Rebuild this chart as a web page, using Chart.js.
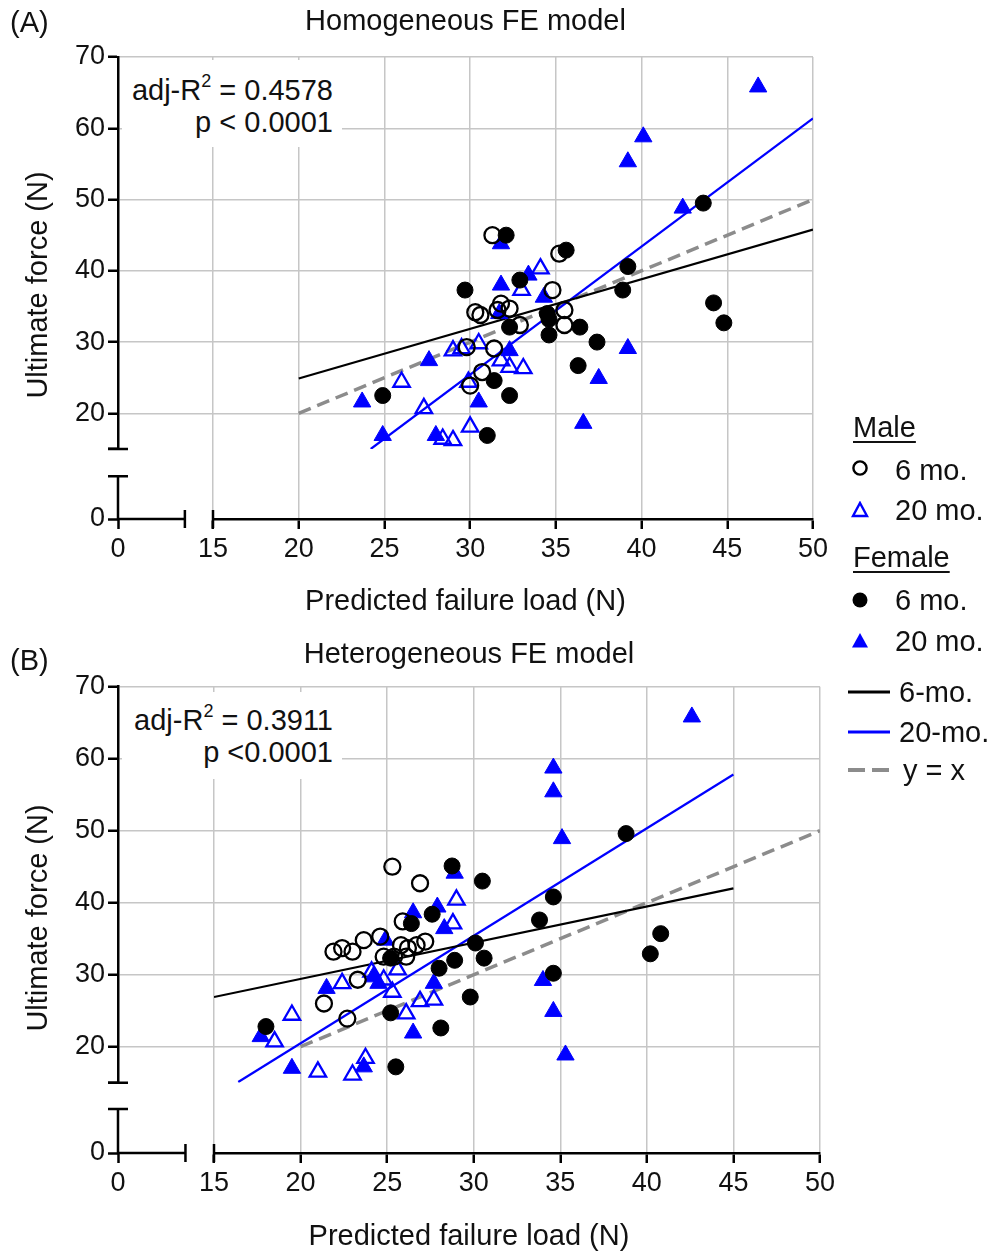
<!DOCTYPE html>
<html>
<head>
<meta charset="utf-8">
<script src="https://cdn.jsdelivr.net/npm/chart.js@4.4.1/dist/chart.umd.min.js"></script>
<style>
  body { margin: 0; background: #fff; font-family: "Liberation Sans", Arial, Helvetica, sans-serif; color: #111; }
  #page { position: relative; width: 993px; height: 1251px; overflow: hidden; }
  canvas { position: absolute; left: 0; }
  .t { position: absolute; font-size: 29px; line-height: 34px; white-space: nowrap; }
  .ytitle { position: absolute; width: 400px; text-align: center; font-size: 29px; line-height: 34px;
            transform: rotate(-90deg); transform-origin: 50% 50%; white-space: nowrap; }
  .xtitle { position: absolute; text-align: center; font-size: 29px; line-height: 34px; white-space: nowrap; }
  .stat { position: absolute; background: #fff; width: 220px; height: 87px; box-sizing: border-box;
          padding-right: 9px; text-align: right; font-size: 29px; line-height: 32px; white-space: nowrap; }
  .stat sup { font-size: 18px; line-height: 0; position: relative; top: -2px; }
  .u { text-decoration: underline; text-decoration-thickness: 2px; text-underline-offset: 4px; }
  .mk { position: absolute; }
</style>
</head>
<body>
<div id="page">
  <canvas id="homChart" width="993" height="625" style="top:0"></canvas>
  <canvas id="hetChart" width="993" height="625" style="top:626px"></canvas>

  <div class="t" style="left:10px; top:5px">(A)</div>
  <div class="t" style="left:10px; top:643px">(B)</div>

  <div class="ytitle" style="left:-163px; top:268px">Ultimate force (N)</div>
  <div class="ytitle" style="left:-163px; top:901px">Ultimate force (N)</div>
  <div class="xtitle" style="left:118px; width:695px; top:583px">Predicted failure load (N)</div>
  <div class="xtitle" style="left:118px; width:702px; top:1218px">Predicted failure load (N)</div>

  <div class="stat" style="left:122px; top:60px; padding-top:14px">adj-R<sup>2</sup> = 0.4578<br>p &lt; 0.0001</div>
  <div class="stat" style="left:122px; top:692px; padding-top:12px">adj-R<sup>2</sup> = 0.3911<br>p &lt;0.0001</div>

  <!-- legend -->
  <div class="t u" style="left:853px; top:410px">Male</div>
  <svg class="mk" style="left:851px; top:459px" width="18" height="18"><circle cx="9" cy="9" r="6.6" fill="none" stroke="#000" stroke-width="2.4"/></svg>
  <div class="t" style="left:895px; top:453px">6 mo.</div>
  <svg class="mk" style="left:851px; top:501px" width="18" height="18"><polygon points="9,2 16,15 2,15" fill="none" stroke="#0000ff" stroke-width="2.4"/></svg>
  <div class="t" style="left:895px; top:493px">20 mo.</div>
  <div class="t u" style="left:853px; top:540px">Female</div>
  <svg class="mk" style="left:851px; top:591px" width="18" height="18"><circle cx="9" cy="9" r="7.5" fill="#000"/></svg>
  <div class="t" style="left:895px; top:583px">6 mo.</div>
  <svg class="mk" style="left:851px; top:632px" width="18" height="18"><polygon points="9,1 17,15.5 1,15.5" fill="#0000ff"/></svg>
  <div class="t" style="left:895px; top:624px">20 mo.</div>
  <svg class="mk" style="left:848px; top:687px" width="44" height="10"><line x1="0" y1="5" x2="42" y2="5" stroke="#000" stroke-width="3"/></svg>
  <div class="t" style="left:899px; top:675px">6-mo.</div>
  <svg class="mk" style="left:848px; top:727px" width="44" height="10"><line x1="0" y1="5" x2="42" y2="5" stroke="#0000ff" stroke-width="3"/></svg>
  <div class="t" style="left:899px; top:715px">20-mo.</div>
  <svg class="mk" style="left:848px; top:765px" width="44" height="10"><line x1="0" y1="5" x2="42" y2="5" stroke="#8c8c8c" stroke-width="4" stroke-dasharray="17 7"/></svg>
  <div class="t" style="left:903px; top:753px">y = x</div>
</div>

<script>
// tick labels (both panels share the broken axes)
const xTicks = [15, 20, 25, 30, 35, 40, 45, 50];
const yTicks = [15, 20, 30, 40, 50, 60, 70]; // 15 only carries the break mark
const zeroTick = [0];

// (A) Homogeneous FE model: [predicted failure load, ultimate force]
const homMale6 = [[31.3, 45.0], [35.2, 42.4], [34.8, 37.3], [30.3, 34.2], [30.6, 33.8], [31.8, 35.4],
  [31.6, 34.5], [32.3, 34.7], [32.9, 32.4], [35.5, 34.5], [35.5, 32.4], [29.8, 29.3], [31.4, 29.1],
  [30.7, 25.8], [30.0, 23.9]];
const homMale20 = [[34.1, 40.3], [33.0, 37.3], [29.0, 28.8], [29.5, 29.1], [30.5, 29.8], [31.8, 27.4],
  [32.3, 26.5], [33.1, 26.3], [29.9, 24.4], [26.0, 24.4], [27.3, 20.7], [28.4, 16.4], [29.0, 16.2],
  [30.0, 18.1]];
const homFemale6 = [[32.1, 45.0], [35.6, 42.9], [43.6, 49.5], [39.2, 40.6], [38.9, 37.3], [32.9, 38.7],
  [29.7, 37.3], [34.5, 34.0], [34.6, 33.2], [34.6, 31.0], [32.3, 32.1], [36.4, 32.1], [37.4, 30.0],
  [36.3, 26.7], [44.2, 35.5], [44.8, 32.7], [31.4, 24.6], [32.3, 22.5], [24.9, 22.5], [31.0, 16.9]];
const homFemale20 = [[46.8, 65.8], [40.1, 58.8], [39.2, 55.3], [42.4, 48.8], [31.8, 43.8], [33.4, 39.4],
  [31.8, 38.0], [34.3, 36.3], [31.7, 34.0], [27.6, 27.4], [32.3, 28.8], [30.5, 21.6], [23.7, 21.6],
  [24.9, 16.9], [28.0, 16.9], [39.2, 29.1], [37.5, 24.9], [36.6, 18.6]];
const homFit6 = [[20, 24.9], [50, 45.8]];
const homFit20 = [[24.2, 15.0], [50, 61.4]];

// (B) Heterogeneous FE model
const hetMale6 = [[25.3, 45.0], [26.9, 42.7], [25.9, 37.4], [21.9, 33.2], [22.4, 33.7], [23.0, 33.2],
  [23.65, 34.8], [24.6, 35.3], [25.8, 34.1], [26.2, 33.7], [26.7, 34.1], [27.2, 34.6], [24.8, 32.5],
  [25.4, 32.5], [26.1, 32.5], [23.3, 29.3], [21.35, 26.0], [22.7, 23.9]];
const hetMale20 = [[29.0, 40.4], [28.8, 37.1], [24.1, 30.4], [24.8, 29.3], [25.6, 30.7], [22.4, 28.8],
  [25.3, 27.6], [26.1, 24.6], [26.9, 26.3], [27.7, 26.5], [19.5, 24.4], [18.5, 20.7], [21.0, 16.5],
  [23.75, 18.4], [23.0, 16.1]];
const hetFemale6 = [[28.75, 45.1], [30.5, 43.0], [27.6, 38.4], [26.4, 37.1], [25.2, 32.3], [30.1, 34.4],
  [30.6, 32.3], [28.9, 32.0], [28.0, 30.9], [25.2, 24.7], [29.8, 26.9], [28.1, 22.6], [18.0, 22.8],
  [25.5, 17.2], [38.8, 49.6], [34.6, 40.8], [33.8, 37.6], [40.8, 35.7], [40.2, 32.9], [34.6, 30.2]];
const hetFemale20 = [[28.9, 44.1], [27.9, 39.4], [28.3, 36.4], [26.5, 38.6], [24.9, 34.8], [24.2, 29.7],
  [24.5, 28.8], [21.5, 28.1], [27.7, 28.8], [26.5, 21.9], [17.7, 21.4], [19.5, 17.0], [23.65, 17.2],
  [42.6, 65.8], [34.6, 58.7], [34.6, 55.4], [35.1, 48.9], [34.0, 29.2], [34.6, 24.9], [35.3, 18.85]];
const hetFit6 = [[15, 26.9], [45, 42.0]];
const hetFit20 = [[16.4, 15.1], [45, 57.8]];

const identityLine = [[20, 20], [50, 50]];

const BLUE = "#0000ff";
const GRID = "#c6c6c6";

Chart.defaults.font.family = "'Liberation Sans', Arial, Helvetica, sans-serif";
Chart.defaults.font.size = 27;
Chart.defaults.color = "#111";

const pts = (arr) => arr.map(([x, y]) => ({ x, y }));

// draws the short axis stubs near zero and the break caps
const brokenAxes = {
  id: "brokenAxes",
  afterDraw(chart, args, o) {
    const { ctx, chartArea: a, scales } = chart;
    const xe = scales.x0.getPixelForValue(o.xEnd);
    const ye = scales.y0.getPixelForValue(o.yEnd);
    const xs = scales.x.getPixelForValue(15);
    const ys = scales.y.getPixelForValue(15);
    ctx.save();
    ctx.strokeStyle = "#000";
    ctx.lineWidth = 2.5;
    ctx.beginPath();
    ctx.moveTo(a.left - 1.25, a.bottom); ctx.lineTo(xe, a.bottom);
    ctx.moveTo(a.left, a.bottom + 1.25); ctx.lineTo(a.left, ye);
    ctx.moveTo(xe, a.bottom - 9); ctx.lineTo(xe, a.bottom + 9);
    ctx.moveTo(xs, a.bottom - 9); ctx.lineTo(xs, a.bottom + 9);
    ctx.moveTo(a.left - 10, ye); ctx.lineTo(a.left + 10, ye);
    ctx.moveTo(a.left - 10, ys); ctx.lineTo(a.left + 10, ys);
    ctx.stroke();
    ctx.restore();
  },
};

function makePanel(id, g) {
  const frame = { tickLength: 10, tickWidth: 2.5, tickColor: "#000" };
  const ticks = { color: "#111", font: { size: 27 }, maxRotation: 0, minRotation: 0, autoSkip: false };
  const onAxis = { xAxisID: "x", yAxisID: "y" };

  return new Chart(document.getElementById(id), {
    type: "scatter",
    data: {
      datasets: [
        { ...onAxis, label: "Female 6 mo.", data: pts(g.f6), pointStyle: "circle", pointRadius: 8,
          backgroundColor: "#000", borderColor: "#000", borderWidth: 1 },
        { ...onAxis, label: "Male 6 mo.", data: pts(g.m6), pointStyle: "circle", pointRadius: 8,
          backgroundColor: "rgba(0,0,0,0)", borderColor: "#000", borderWidth: 2.3 },
        { ...onAxis, label: "Female 20 mo.", data: pts(g.f20), pointStyle: "triangle", pointRadius: 10,
          backgroundColor: BLUE, borderColor: BLUE, borderWidth: 1 },
        { ...onAxis, label: "Male 20 mo.", data: pts(g.m20), pointStyle: "triangle", pointRadius: 9.5,
          backgroundColor: "rgba(0,0,0,0)", borderColor: BLUE, borderWidth: 2.3 },
        { ...onAxis, label: "6-mo.", data: pts(g.fit6), showLine: true, pointRadius: 0,
          borderColor: "#000", borderWidth: 2.2 },
        { ...onAxis, label: "20-mo.", data: pts(g.fit20), showLine: true, pointRadius: 0,
          borderColor: BLUE, borderWidth: 2.2 },
        { ...onAxis, label: "y = x", data: pts(identityLine), showLine: true, pointRadius: 0,
          borderColor: "#8c8c8c", borderWidth: 3.5, borderDash: [13, 7] },
      ],
    },
    options: {
      responsive: false,
      animation: false,
      events: [],
      layout: { padding: { left: 0, right: g.padRight, top: 0, bottom: 0 } },
      plugins: {
        legend: { display: false },
        tooltip: { enabled: false },
        title: {
          display: true, text: g.title, fullSize: false, color: "#111",
          font: { size: 29, weight: "normal" },
          padding: { top: g.titleTop, bottom: g.titleBottom },
        },
        brokenAxes: { xEnd: 3.9, yEnd: g.yStub },
      },
      scales: {
        x0: {
          type: "linear", position: "bottom", stack: "xb", stackWeight: g.x0w,
          min: 0, max: g.x0max,
          grid: { ...frame, drawOnChartArea: false },
          border: { display: false },
          ticks: { ...ticks, padding: 4 },
          afterBuildTicks: (s) => { s.ticks = zeroTick.map((v) => ({ value: v })); },
          afterFit: (s) => { s.height = g.xh; },
        },
        x: {
          type: "linear", position: "bottom", stack: "xb", stackWeight: g.xw,
          min: 15, max: 50,
          grid: { ...frame, color: GRID, lineWidth: 1.5 },
          border: { color: "#000", width: 2.5 },
          ticks: { ...ticks, padding: 4 },
          afterBuildTicks: (s) => { s.ticks = xTicks.map((v) => ({ value: v })); },
          afterFit: (s) => { s.height = g.xh; },
        },
        y0: {
          type: "linear", position: "left", stack: "yl", stackWeight: g.y0w,
          min: 0, max: g.y0max,
          grid: { ...frame, drawOnChartArea: false },
          border: { display: false },
          ticks: { ...ticks, padding: 3 },
          afterBuildTicks: (s) => { s.ticks = zeroTick.map((v) => ({ value: v })); },
          afterFit: (s) => { s.width = 118; },
        },
        y: {
          type: "linear", position: "left", stack: "yl", stackWeight: g.yw,
          min: 15, max: 70,
          grid: {
            ...frame, lineWidth: 1.5,
            color: (c) => (c.tick && c.tick.value === 15 ? "rgba(0,0,0,0)" : GRID),
          },
          border: { color: "#000", width: 2.5 },
          ticks: { ...ticks, padding: 3, callback: (v) => (v === 15 ? "" : v) },
          afterBuildTicks: (s) => { s.ticks = yTicks.map((v) => ({ value: v })); },
          afterFit: (s) => { s.width = 118; },
        },
      },
    },
    plugins: [brokenAxes],
  });
}

makePanel("homChart", {
  title: "Homogeneous FE model",
  m6: homMale6, m20: homMale20, f6: homFemale6, f20: homFemale20,
  fit6: homFit6, fit20: homFit20,
  padRight: 180, titleTop: 4.6, titleBottom: 17.6,
  x0w: 95, xw: 600, x0max: 5.54,
  yw: 392, y0w: 70, y0max: 9.82, yStub: 6.0,
  xh: 106,
});

makePanel("hetChart", {
  title: "Heterogeneous FE model",
  m6: hetMale6, m20: hetMale20, f6: hetFemale6, f20: hetFemale20,
  fit6: hetFit6, fit20: hetFit20,
  padRight: 173, titleTop: 11.6, titleBottom: 14.3,
  x0w: 96, xw: 606, x0max: 5.55,
  yw: 396, y0w: 70.3, y0max: 9.76, yStub: 6.1,
  xh: 98,
});
</script>
</body>
</html>
